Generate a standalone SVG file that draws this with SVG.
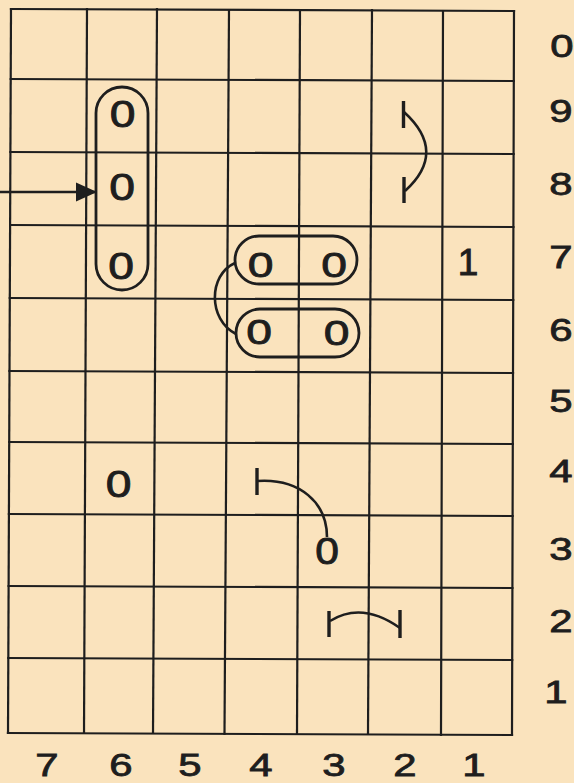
<svg xmlns="http://www.w3.org/2000/svg" width="574" height="783" viewBox="0 0 574 783">
<style>
.grid{stroke:#1e1e1e;stroke-width:2.2;fill:none;stroke-linecap:square}
.cap{stroke:#1e1e1e;stroke-width:2.8;fill:none}
.con{stroke:#1e1e1e;stroke-width:2.6;fill:none}
.bar{stroke:#1e1e1e;stroke-width:3.4;fill:none}
.sym{font-family:"Liberation Sans",Arial,sans-serif;font-size:37px;fill:#1e1e1e;stroke:#1e1e1e;stroke-width:0.9;text-anchor:middle}
.ax{font-family:"Liberation Sans",Arial,sans-serif;font-size:31px;fill:#1e1e1e;stroke:#1e1e1e;stroke-width:0.8;text-anchor:middle}
</style>
<defs>
<marker id="ah" markerWidth="22" markerHeight="20" refX="21" refY="10" orient="auto" markerUnits="userSpaceOnUse">
<polygon points="0,0.5 21,10 0,19.5" fill="#1e1e1e"/>
</marker>
</defs>
<rect width="574" height="783" fill="#FAE3BD"/>
<g id="grid" class="grid">
<line x1="11" y1="9" x2="514" y2="11"/>
<line x1="10.7" y1="79" x2="513.8" y2="81"/>
<line x1="10.4" y1="152" x2="513.6" y2="154"/>
<line x1="10.1" y1="225" x2="513.4" y2="227"/>
<line x1="9.8" y1="298" x2="513.2" y2="300"/>
<line x1="9.5" y1="371" x2="513" y2="373"/>
<line x1="9.2" y1="442" x2="512.8" y2="444"/>
<line x1="8.9" y1="514" x2="512.6" y2="516"/>
<line x1="8.6" y1="586" x2="512.4" y2="588"/>
<line x1="8.3" y1="658" x2="512.2" y2="660"/>
<line x1="8" y1="733" x2="512" y2="735"/>
<line x1="11" y1="9" x2="8" y2="733"/>
<line x1="87" y1="9" x2="84" y2="733"/>
<line x1="157" y1="9" x2="153" y2="733"/>
<line x1="229" y1="10" x2="224.5" y2="734"/>
<line x1="300" y1="10" x2="297" y2="734"/>
<line x1="372" y1="10" x2="368" y2="734"/>
<line x1="443" y1="11" x2="441" y2="735"/>
<line x1="514" y1="11" x2="512" y2="735"/>
</g>
<g id="row-labels" class="ax">
<text transform="translate(562,57) scale(1.35,1)">0</text>
<text transform="translate(561,122) scale(1.35,1)">9</text>
<text transform="translate(561,195) scale(1.35,1)">8</text>
<text transform="translate(561,268) scale(1.35,1)">7</text>
<text transform="translate(561,341) scale(1.35,1)">6</text>
<text transform="translate(561,412) scale(1.35,1)">5</text>
<text transform="translate(561,482) scale(1.35,1)">4</text>
<text transform="translate(561,560) scale(1.35,1)">3</text>
<text transform="translate(561,632) scale(1.35,1)">2</text>
<text transform="translate(556,703) scale(1.35,1)">1</text>
</g>
<g id="col-labels" class="ax">
<text transform="translate(47,776) scale(1.35,1)">7</text>
<text transform="translate(121,776) scale(1.35,1)">6</text>
<text transform="translate(190,776) scale(1.35,1)">5</text>
<text transform="translate(261,776) scale(1.35,1)">4</text>
<text transform="translate(334,776) scale(1.35,1)">3</text>
<text transform="translate(405,776) scale(1.35,1)">2</text>
<text transform="translate(474,776) scale(1.35,1)">1</text>
</g>
<g id="group-col6">
<rect class="cap" x="96" y="87" width="52" height="203" rx="26" ry="26"/>
<text class="sym" transform="translate(122.5,127) scale(1.25,1)">0</text>
<text class="sym" transform="translate(122,199.5) scale(1.25,1)">0</text>
<text class="sym" transform="translate(121,279) scale(1.25,1)">0</text>
</g>
<g id="group-row7">
<rect class="cap" x="235" y="236" width="122" height="48" rx="24" ry="24"/>
<text class="sym" transform="translate(260.5,276.5) scale(1.25,0.95)">0</text>
<text class="sym" transform="translate(334,276.5) scale(1.25,0.95)">0</text>
</g>
<g id="group-row6">
<rect class="cap" x="236" y="309" width="123" height="48" rx="24" ry="24"/>
<text class="sym" transform="translate(259,344) scale(1.25,0.95)">0</text>
<text class="sym" transform="translate(336.5,345) scale(1.25,0.95)">0</text>
</g>
<g id="cell-6-4">
<text class="sym" transform="translate(118.5,497) scale(1.25,1)">0</text>
</g>
<g id="cell-3-3">
<text class="sym" transform="translate(327,563.5) scale(1.15,1)">0</text>
</g>
<g id="cell-1-7">
<text class="sym" transform="translate(468,275)">1</text>
</g>
<g id="connectors">
<line class="con" x1="0" y1="192" x2="97" y2="192" marker-end="url(#ah)"/>
<path class="con" d="M235,263 C208,275 208,320 236,334"/>
<line class="bar" x1="403.5" y1="101" x2="403.5" y2="128"/>
<line class="bar" x1="404" y1="177" x2="404" y2="203"/>
<path class="con" d="M404,112 Q448,152 405,191"/>
<line class="bar" x1="257" y1="468" x2="257" y2="495"/>
<path class="con" d="M257,481 C300,478 327,503 327,537"/>
<line class="bar" x1="329" y1="611" x2="329" y2="637"/>
<line class="bar" x1="400" y1="610" x2="400" y2="638"/>
<path class="con" d="M330,621 Q362,601 400,628"/>
</g>
</svg>
